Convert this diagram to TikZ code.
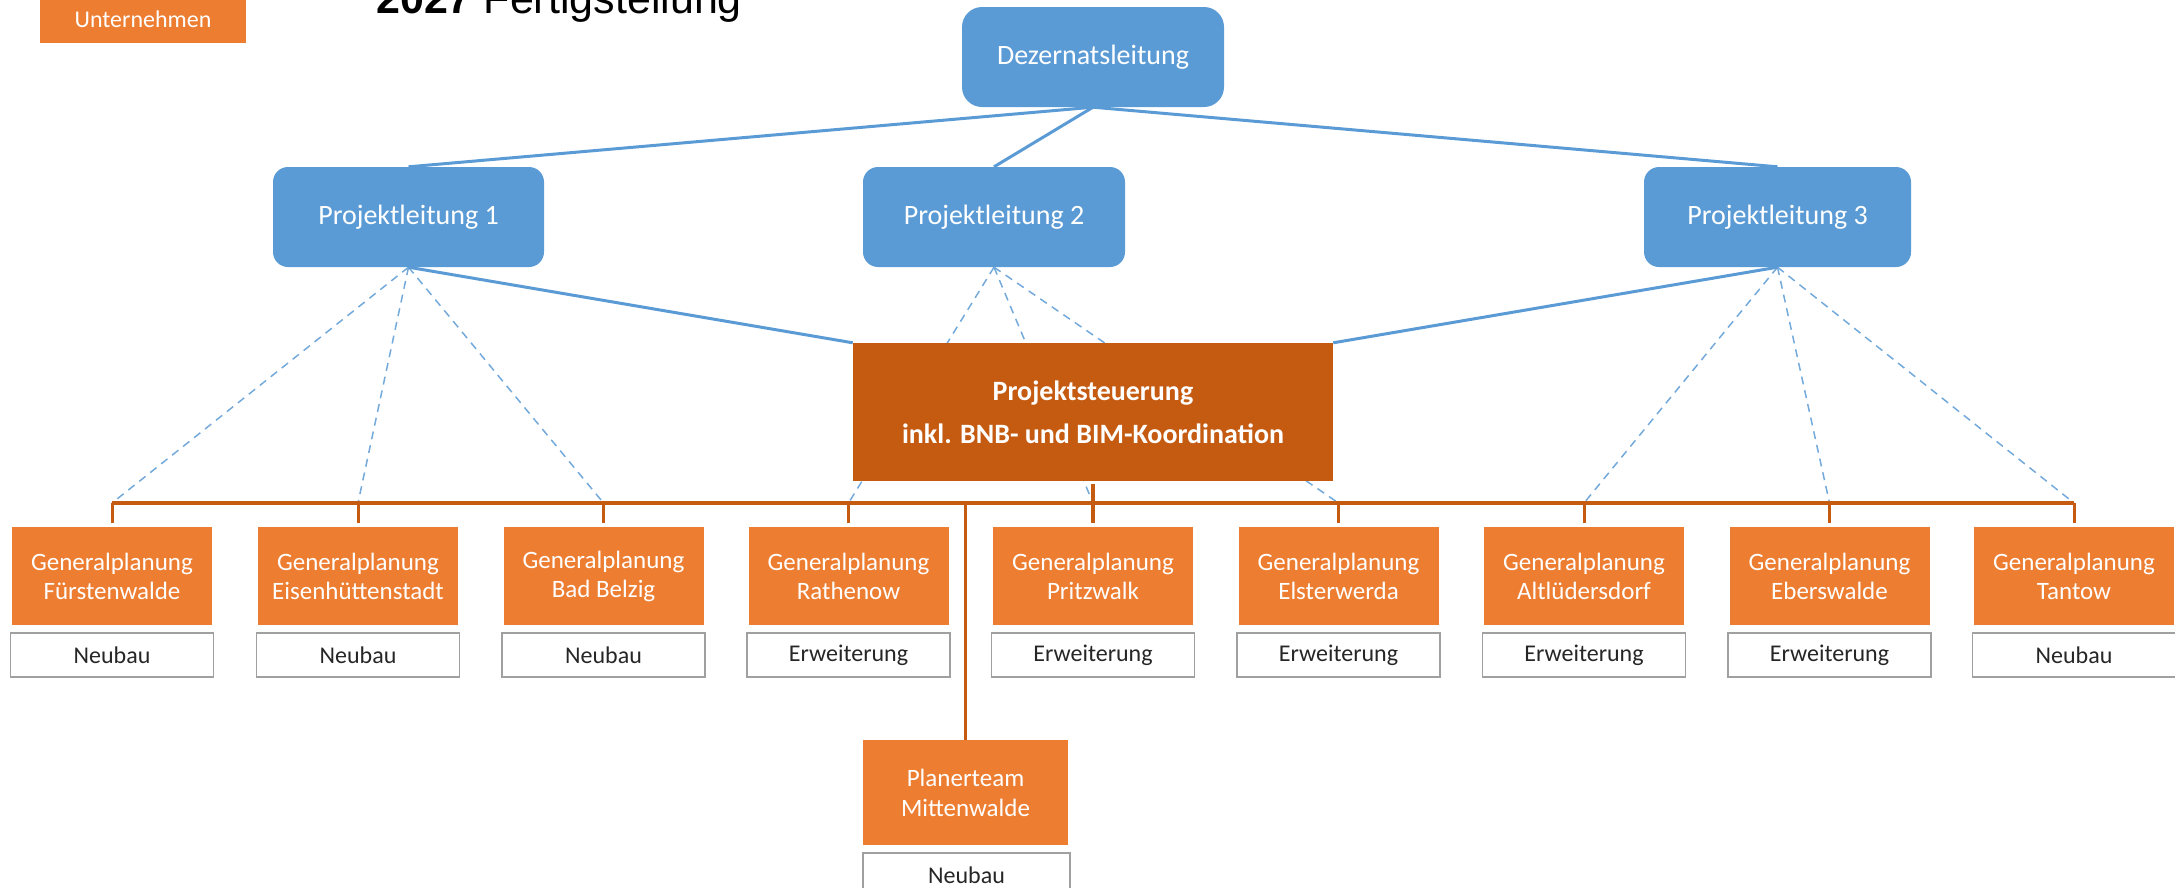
\documentclass[tikz,border=0pt]{standalone}
\usepackage{fontspec}
\setmainfont{Carlito}
\newfontfamily\titlefont{Liberation Sans}
\usetikzlibrary{calc}

\definecolor{lead}{HTML}{5B9BD5}
\definecolor{ctrl}{HTML}{C55A11}
\definecolor{firm}{HTML}{ED7D31}
\definecolor{tagline}{HTML}{A0A0A0}

\pgfdeclarelayer{bg}
\pgfsetlayers{bg,main}

\tikzset{
  leadbox/.style={fill=lead, draw=none, rounded corners=15pt, text=white,
    minimum height=100pt, inner sep=0pt, font=\fontsize{28}{34}\selectfont},
  ctrlbox/.style={fill=ctrl, draw=none, text=white, align=center,
    minimum width=480pt, minimum height=138pt, inner sep=0pt,
    font=\fontsize{28}{43}\selectfont\bfseries},
  firmbox/.style={fill=firm, draw=none, text=white, align=center,
    minimum width=200pt, minimum height=98pt, inner sep=0pt,
    font=\fontsize{25}{29}\selectfont},
  tagbox/.style={draw=tagline, line width=1.5pt, fill=white, text=black!85,
    minimum width=203pt, minimum height=44pt, inner sep=0pt,
    font=\fontsize{24}{28}\selectfont},
  leadline/.style={draw=lead, line width=3pt},
  leaddash/.style={draw=lead!85, line width=1.5pt, dash pattern=on 8pt off 6pt},
  busline/.style={draw=ctrl, line width=4pt},
  dropline/.style={draw=ctrl, line width=3pt},
}

\begin{document}
\begin{tikzpicture}[x=1pt, y=-1pt]
\path[use as bounding box, clip] (0,0) rectangle (2175,887);

% legend and heading
\node[fill=firm, text=white, minimum width=206pt, minimum height=48pt, inner sep=0pt,
      font=\fontsize{24}{28}\selectfont] (legend) at (143,19) {Unternehmen};
\node[anchor=base west, inner sep=0pt, font=\titlefont\fontsize{43}{50}\selectfont]
      (title) at (376,13) {\textbf{2027} Fertigstellung};

% management
\node[leadbox, minimum width=262pt, rounded corners=20pt] (dez) at (1093,57) {Dezernatsleitung};
\node[leadbox, minimum width=271pt] (pl1) at (408.5,217) {Projektleitung 1};
\node[leadbox, minimum width=262pt] (pl2) at (994,217) {Projektleitung 2};
\node[leadbox, minimum width=267pt] (pl3) at (1777.5,217) {Projektleitung 3};

% project control
\node[ctrlbox] (ps) at (1093,412) {Projektsteuerung\\inkl. BNB- und BIM-Koordination};

% planning teams
\node[firmbox] (gp1) at (112,576)    {Generalplanung\\Fürstenwalde};
\node[firmbox] (gp2) at (358,576)    {Generalplanung\\Eisenhüttenstadt};
\node[firmbox] (gp3) at (603.5,576)  {Generalplanung\\Bad Belzig};
\node[firmbox] (gp4) at (848.5,576)  {Generalplanung\\Rathenow};
\node[firmbox] (gp5) at (1093,576)   {Generalplanung\\Pritzwalk};
\node[firmbox] (gp6) at (1338.5,576) {Generalplanung\\Elsterwerda};
\node[firmbox] (gp7) at (1584,576)   {Generalplanung\\Altlüdersdorf};
\node[firmbox] (gp8) at (1829.5,576) {Generalplanung\\Eberswalde};
\node[firmbox] (gp9) at (2074,576)   {Generalplanung\\Tantow};

\node[tagbox] (t1) at (112,655)    {Neubau};
\node[tagbox] (t2) at (358,655)    {Neubau};
\node[tagbox] (t3) at (603.5,655)  {Neubau};
\node[tagbox] (t4) at (848.5,655)  {Erweiterung};
\node[tagbox] (t5) at (1093,655)   {Erweiterung};
\node[tagbox] (t6) at (1338.5,655) {Erweiterung};
\node[tagbox] (t7) at (1584,655)   {Erweiterung};
\node[tagbox] (t8) at (1829.5,655) {Erweiterung};
\node[tagbox] (t9) at (2074,655)   {Neubau};

\node[firmbox, minimum width=205pt, minimum height=105pt,
      font=\fontsize{25}{30}\selectfont] (pt) at (965.5,792.5) {Planerteam\\Mittenwalde};
\node[tagbox, minimum width=207pt] (tp) at (966.5,875) {Neubau};

\coordinate (bus) at (0,503);

\begin{pgfonlayer}{bg}
  % dashed assignments of the project leads
  \foreach \g in {gp1,gp2,gp3}
    \draw[leaddash] (pl1.south) -- (\g.north |- bus);
  \foreach \g in {gp4,gp5,gp6}
    \draw[leaddash] (pl2.south) -- (\g.north |- bus);
  \foreach \g in {gp7,gp8,gp9}
    \draw[leaddash] (pl3.south) -- (\g.north |- bus);

  % reporting lines
  \draw[leadline] (dez.south) -- (pl1.north);
  \draw[leadline] (dez.south) -- (pl2.north);
  \draw[leadline] (dez.south) -- (pl3.north);
  \draw[leadline] (pl1.south) -- (ps.north west);
  \draw[leadline] (pl3.south) -- (ps.north east);
\end{pgfonlayer}

% distribution bus below the project control
\draw[busline] (gp1.north |- bus) -- (gp9.north |- bus);
\foreach \g in {gp1,gp2,gp3,gp4,gp6,gp7,gp8,gp9}
  \draw[dropline] (\g.north |- bus) -- ([yshift=4pt]\g.north);
\draw[busline] ([yshift=-3pt]ps.south) -- ([yshift=4pt]gp5.north);
\draw[dropline] (pt.north |- bus) -- (pt.north);
\end{tikzpicture}
\end{document}
